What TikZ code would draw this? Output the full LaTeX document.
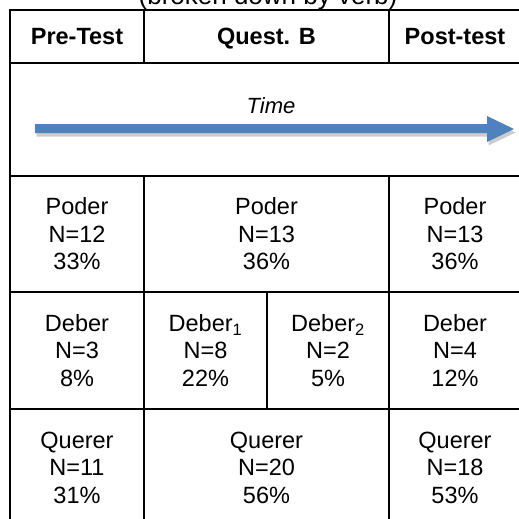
\documentclass[tikz,border=0pt]{standalone}
\usepackage{fontspec}
\setmainfont{Liberation Sans}
\definecolor{arrowblue}{RGB}{79,129,189}
\begin{document}
\begin{tikzpicture}[x=1pt,y=1pt,
  grid/.style={line width=2pt, line cap=rect},
  cell/.style={align=center, inner sep=0pt, font=\fontsize{23.5}{27.5}\selectfont},
  headcell/.style={inner sep=0pt, anchor=base, font=\fontsize{23.5}{27.5}\selectfont\bfseries},
  timearrow/.style={fill=arrowblue},
  arrowshadow/.style={fill=gray!40}
]
\useasboundingbox (0,0) rectangle (519,-519);
\clip (0,0) rectangle (519,-519);
% caption (cut at top)
\node[anchor=base, inner sep=0pt, font=\fontsize{26}{30}\selectfont] (cap) at (268,-5) {(broken down by verb)};
% grid
\draw[grid] (10,-10) rectangle (521,-526);
\foreach \y in {63,176,292,409} \draw[grid] (10,-\y) -- (521,-\y);
\draw[grid] (144,-10) -- (144,-63);
\draw[grid] (389,-10) -- (389,-63);
\draw[grid] (144,-176) -- (144,-526);
\draw[grid] (389,-176) -- (389,-526);
\draw[grid] (267,-292) -- (267,-409);
% header
\node[headcell] (h1) at (77,-45) {Pre-Test};
\node[headcell] (h2) at (266.5,-45) {Quest. B};
\node[headcell] (h3) at (455,-45) {Post-test};
% time arrow
\node[inner sep=0pt, font=\fontsize{22}{26}\selectfont\itshape] (time) at (271,-106) {Time};
\coordinate (tstart) at (35,-128.5);
\coordinate (tend) at (514,-129);
\fill[arrowshadow, shift={(1.5,-3.5)}] (35,-124) -- (487,-124) -- (487,-116) -- (514,-129) -- (487,-142) -- (487,-133) -- (35,-133) -- cycle;
\fill[timearrow] (35,-124) -- (487,-124) -- (487,-116) -- (tend) -- (487,-142) -- (487,-133) -- (35,-133) -- cycle;
% Poder row
\node[cell] (p1) at (77,-234) {Poder\\N=12\\33\%};
\node[cell] (p2) at (266.5,-234) {Poder\\N=13\\36\%};
\node[cell] (p3) at (455,-234) {Poder\\N=13\\36\%};
% Deber row
\node[cell] (d1) at (77,-350.5) {Deber\\N=3\\8\%};
\node[cell] (d2) at (205.5,-350.5) {Deber\textsubscript{1}\\N=8\\22\%};
\node[cell] (d3) at (328,-350.5) {Deber\textsubscript{2}\\N=2\\5\%};
\node[cell] (d4) at (455,-350.5) {Deber\\N=4\\12\%};
% Querer row
\node[cell] (q1) at (77,-467.5) {Querer\\N=11\\31\%};
\node[cell] (q2) at (266.5,-467.5) {Querer\\N=20\\56\%};
\node[cell] (q3) at (455,-467.5) {Querer\\N=18\\53\%};
\end{tikzpicture}
\end{document}
